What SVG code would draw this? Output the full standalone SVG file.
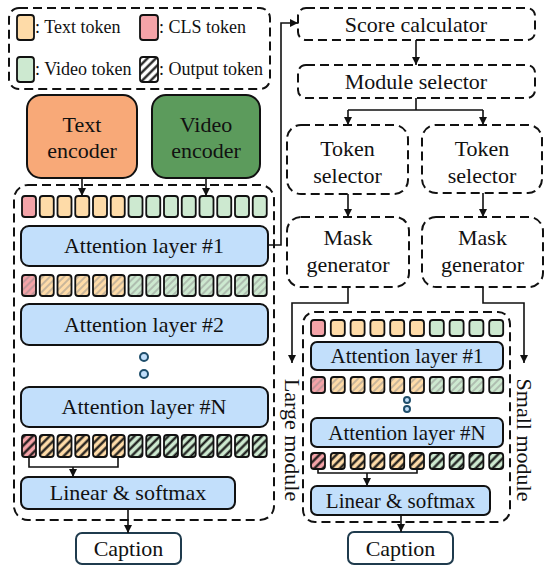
<svg xmlns="http://www.w3.org/2000/svg" width="544" height="568" viewBox="0 0 544 568">
<style>
text{font-family:"Liberation Serif","Times New Roman",serif;fill:#111;}
.t22{font-size:22px;text-anchor:middle;}
.t21{font-size:21px;text-anchor:middle;}
.leg{font-size:18px;}
.dash{fill:#fff;stroke:#111;stroke-width:2;stroke-dasharray:9 5;}
.dashn{fill:none;stroke:#111;stroke-width:2;stroke-dasharray:9 5;}
.att{fill:#C2DFFB;stroke:#111;stroke-width:2;}
.cap{fill:#fff;stroke:#1F3B4D;stroke-width:2;}
.tk{stroke:#111;stroke-width:1.8;}
.p{fill:#F4A3A8;}
.o{fill:#FEDBA8;}
.g{fill:#CDE9D0;}
.hl{fill:url(#hatchL);stroke:#111;stroke-width:1.8;}
.hb{fill:url(#hatchB);stroke:#111;stroke-width:1.8;}
.ln{fill:none;stroke:#111;stroke-width:1.6;}
.ar{fill:none;stroke:#111;stroke-width:1.6;marker-end:url(#ah);}
.dot{fill:#C2DFFB;stroke:#1F4E6B;stroke-width:2;}
</style>
<defs>
<marker id="ah" markerUnits="userSpaceOnUse" markerWidth="10" markerHeight="10" refX="8" refY="4" orient="auto">
<path d="M0,0 L8,4 L0,8 Z" fill="#111"/>
</marker>
<pattern id="hatchL" patternUnits="userSpaceOnUse" width="5" height="5" patternTransform="rotate(45)">
<line x1="1" y1="0" x2="1" y2="5" stroke="#888" stroke-opacity="0.6" stroke-width="1.5"/>
</pattern>
<pattern id="hatchB" patternUnits="userSpaceOnUse" width="6" height="6" patternTransform="rotate(45)">
<line x1="1.5" y1="0" x2="1.5" y2="6" stroke="#111" stroke-width="2.2"/>
</pattern>
</defs>

<g id="legend">
<rect class="dashn" x="9" y="8" width="261" height="81" rx="10"/>
<rect class="tk o" x="17" y="15" width="17" height="25" rx="3"/>
<text class="leg" x="35" y="33">: Text token</text>
<rect class="tk p" x="140" y="15" width="18" height="25" rx="3"/>
<text class="leg" x="159" y="33">: CLS token</text>
<rect class="tk g" x="17" y="57" width="17" height="25" rx="3"/>
<text class="leg" x="35" y="75">: Video token</text>
<rect fill="#fff" x="140" y="57" width="18" height="25" rx="3"/>
<rect class="hb" x="140" y="57" width="18" height="25" rx="3"/>
<text class="leg" x="159" y="75">: Output token</text>
</g>

<g id="text-encoder">
<rect x="27" y="95" width="110" height="83" rx="14" fill="#F8A978" stroke="#111" stroke-width="2"/>
<text class="t22" x="82" y="132">Text</text>
<text class="t22" x="82" y="158">encoder</text>
</g>
<g id="video-encoder">
<rect x="152" y="95" width="108" height="83" rx="14" fill="#5C9B5C" stroke="#111" stroke-width="2"/>
<text class="t22" x="206" y="132">Video</text>
<text class="t22" x="206" y="158">encoder</text>
</g>

<g id="large-module">
<rect class="dashn" x="14" y="185" width="260" height="335" rx="14"/>
<text class="t22" transform="translate(285,440) rotate(90)" x="0" y="0">Large module</text>
</g>

<g id="large-tokens-1">
<rect class="tk p" x="22" y="196" width="14" height="21" rx="3"/>
<rect class="tk o" x="39.75" y="196" width="14" height="21" rx="3"/>
<rect class="tk o" x="57.5" y="196" width="14" height="21" rx="3"/>
<rect class="tk o" x="75.25" y="196" width="14" height="21" rx="3"/>
<rect class="tk o" x="93" y="196" width="14" height="21" rx="3"/>
<rect class="tk o" x="110.75" y="196" width="14" height="21" rx="3"/>
<rect class="tk g" x="128.5" y="196" width="14" height="21" rx="3"/>
<rect class="tk g" x="146.25" y="196" width="14" height="21" rx="3"/>
<rect class="tk g" x="164" y="196" width="14" height="21" rx="3"/>
<rect class="tk g" x="181.75" y="196" width="14" height="21" rx="3"/>
<rect class="tk g" x="199.5" y="196" width="14" height="21" rx="3"/>
<rect class="tk g" x="217.25" y="196" width="14" height="21" rx="3"/>
<rect class="tk g" x="235" y="196" width="14" height="21" rx="3"/>
<rect class="tk g" x="252.75" y="196" width="14" height="21" rx="3"/>
</g>

<g id="large-attention-1">
<rect class="att" x="21" y="226" width="247" height="40" rx="8"/>
<text class="t22" x="144" y="253">Attention layer #1</text>
</g>

<g id="large-tokens-2">
<rect class="p" x="22" y="275" width="14" height="21" rx="3"/><rect class="hl" x="22" y="275" width="14" height="21" rx="3"/>
<rect class="o" x="39.75" y="275" width="14" height="21" rx="3"/><rect class="hl" x="39.75" y="275" width="14" height="21" rx="3"/>
<rect class="o" x="57.5" y="275" width="14" height="21" rx="3"/><rect class="hl" x="57.5" y="275" width="14" height="21" rx="3"/>
<rect class="o" x="75.25" y="275" width="14" height="21" rx="3"/><rect class="hl" x="75.25" y="275" width="14" height="21" rx="3"/>
<rect class="o" x="93" y="275" width="14" height="21" rx="3"/><rect class="hl" x="93" y="275" width="14" height="21" rx="3"/>
<rect class="o" x="110.75" y="275" width="14" height="21" rx="3"/><rect class="hl" x="110.75" y="275" width="14" height="21" rx="3"/>
<rect class="g" x="128.5" y="275" width="14" height="21" rx="3"/><rect class="hl" x="128.5" y="275" width="14" height="21" rx="3"/>
<rect class="g" x="146.25" y="275" width="14" height="21" rx="3"/><rect class="hl" x="146.25" y="275" width="14" height="21" rx="3"/>
<rect class="g" x="164" y="275" width="14" height="21" rx="3"/><rect class="hl" x="164" y="275" width="14" height="21" rx="3"/>
<rect class="g" x="181.75" y="275" width="14" height="21" rx="3"/><rect class="hl" x="181.75" y="275" width="14" height="21" rx="3"/>
<rect class="g" x="199.5" y="275" width="14" height="21" rx="3"/><rect class="hl" x="199.5" y="275" width="14" height="21" rx="3"/>
<rect class="g" x="217.25" y="275" width="14" height="21" rx="3"/><rect class="hl" x="217.25" y="275" width="14" height="21" rx="3"/>
<rect class="g" x="235" y="275" width="14" height="21" rx="3"/><rect class="hl" x="235" y="275" width="14" height="21" rx="3"/>
<rect class="g" x="252.75" y="275" width="14" height="21" rx="3"/><rect class="hl" x="252.75" y="275" width="14" height="21" rx="3"/>
</g>

<g id="large-attention-2">
<rect class="att" x="21" y="304" width="247" height="41" rx="8"/>
<text class="t22" x="144" y="332">Attention layer #2</text>
</g>

<g id="large-dots">
<circle class="dot" cx="144" cy="357" r="4"/>
<circle class="dot" cx="144" cy="374" r="4"/>
</g>

<g id="large-attention-n">
<rect class="att" x="21" y="387" width="247" height="40" rx="8"/>
<text class="t22" x="144" y="414">Attention layer #N</text>
</g>

<g id="large-tokens-3">
<rect class="p" x="22" y="435" width="14" height="22" rx="3"/><rect class="hb" x="22" y="435" width="14" height="22" rx="3"/>
<rect class="o" x="39.75" y="435" width="14" height="22" rx="3"/><rect class="hb" x="39.75" y="435" width="14" height="22" rx="3"/>
<rect class="o" x="57.5" y="435" width="14" height="22" rx="3"/><rect class="hb" x="57.5" y="435" width="14" height="22" rx="3"/>
<rect class="o" x="75.25" y="435" width="14" height="22" rx="3"/><rect class="hb" x="75.25" y="435" width="14" height="22" rx="3"/>
<rect class="o" x="93" y="435" width="14" height="22" rx="3"/><rect class="hb" x="93" y="435" width="14" height="22" rx="3"/>
<rect class="o" x="110.75" y="435" width="14" height="22" rx="3"/><rect class="hb" x="110.75" y="435" width="14" height="22" rx="3"/>
<rect class="g" x="128.5" y="435" width="14" height="22" rx="3"/><rect class="hb" x="128.5" y="435" width="14" height="22" rx="3"/>
<rect class="g" x="146.25" y="435" width="14" height="22" rx="3"/><rect class="hb" x="146.25" y="435" width="14" height="22" rx="3"/>
<rect class="g" x="164" y="435" width="14" height="22" rx="3"/><rect class="hb" x="164" y="435" width="14" height="22" rx="3"/>
<rect class="g" x="181.75" y="435" width="14" height="22" rx="3"/><rect class="hb" x="181.75" y="435" width="14" height="22" rx="3"/>
<rect class="g" x="199.5" y="435" width="14" height="22" rx="3"/><rect class="hb" x="199.5" y="435" width="14" height="22" rx="3"/>
<rect class="g" x="217.25" y="435" width="14" height="22" rx="3"/><rect class="hb" x="217.25" y="435" width="14" height="22" rx="3"/>
<rect class="g" x="235" y="435" width="14" height="22" rx="3"/><rect class="hb" x="235" y="435" width="14" height="22" rx="3"/>
<rect class="g" x="252.75" y="435" width="14" height="22" rx="3"/><rect class="hb" x="252.75" y="435" width="14" height="22" rx="3"/>
</g>

<g id="large-linear">
<rect class="att" x="21" y="477" width="214" height="32" rx="7"/>
<text class="t22" x="128" y="500">Linear &amp; softmax</text>
</g>

<g id="large-caption">
<rect class="cap" x="76" y="533" width="105" height="31" rx="6"/>
<text class="t22" x="128.5" y="556">Caption</text>
</g>

<g id="score-calculator">
<rect class="dash" x="298" y="8" width="237" height="32" rx="8"/>
<text class="t22" x="416" y="32">Score calculator</text>
</g>
<g id="module-selector">
<rect class="dash" x="298" y="65" width="237" height="33" rx="8"/>
<text class="t22" x="416" y="89">Module selector</text>
</g>
<g id="token-selector-left">
<rect class="dash" x="287" y="125" width="121" height="69" rx="14"/>
<text class="t22" x="347.5" y="156">Token</text>
<text class="t22" x="347.5" y="183">selector</text>
</g>
<g id="token-selector-right">
<rect class="dash" x="422" y="125" width="120" height="68" rx="14"/>
<text class="t22" x="482" y="156">Token</text>
<text class="t22" x="482" y="183">selector</text>
</g>
<g id="mask-generator-left">
<rect class="dash" x="287" y="217" width="122" height="70" rx="14"/>
<text class="t22" x="348" y="245">Mask</text>
<text class="t22" x="348" y="272">generator</text>
</g>
<g id="mask-generator-right">
<rect class="dash" x="422" y="217" width="121" height="70" rx="14"/>
<text class="t22" x="482.5" y="245">Mask</text>
<text class="t22" x="482.5" y="272">generator</text>
</g>

<g id="small-module">
<rect class="dashn" x="303" y="312" width="207" height="210" rx="12"/>
<text class="t22" transform="translate(517,440) rotate(90)" x="0" y="0">Small module</text>
</g>

<g id="small-tokens-1">
<rect class="tk p" x="311" y="320" width="14" height="16" rx="3"/>
<rect class="tk o" x="330.8" y="320" width="14" height="16" rx="3"/>
<rect class="tk o" x="350.6" y="320" width="14" height="16" rx="3"/>
<rect class="tk o" x="370.4" y="320" width="14" height="16" rx="3"/>
<rect class="tk o" x="390.2" y="320" width="14" height="16" rx="3"/>
<rect class="tk o" x="410" y="320" width="14" height="16" rx="3"/>
<rect class="tk g" x="429.8" y="320" width="14" height="16" rx="3"/>
<rect class="tk g" x="449.6" y="320" width="14" height="16" rx="3"/>
<rect class="tk g" x="469.4" y="320" width="14" height="16" rx="3"/>
<rect class="tk g" x="489.2" y="320" width="14" height="16" rx="3"/>
</g>

<g id="small-attention-1">
<rect class="att" x="311" y="342" width="192" height="28" rx="6"/>
<text class="t21" x="407" y="363">Attention layer #1</text>
</g>

<g id="small-tokens-2">
<rect class="p" x="311" y="377" width="14" height="16" rx="3"/><rect class="hl" x="311" y="377" width="14" height="16" rx="3"/>
<rect class="o" x="330.8" y="377" width="14" height="16" rx="3"/><rect class="hl" x="330.8" y="377" width="14" height="16" rx="3"/>
<rect class="o" x="350.6" y="377" width="14" height="16" rx="3"/><rect class="hl" x="350.6" y="377" width="14" height="16" rx="3"/>
<rect class="o" x="370.4" y="377" width="14" height="16" rx="3"/><rect class="hl" x="370.4" y="377" width="14" height="16" rx="3"/>
<rect class="o" x="390.2" y="377" width="14" height="16" rx="3"/><rect class="hl" x="390.2" y="377" width="14" height="16" rx="3"/>
<rect class="o" x="410" y="377" width="14" height="16" rx="3"/><rect class="hl" x="410" y="377" width="14" height="16" rx="3"/>
<rect class="g" x="429.8" y="377" width="14" height="16" rx="3"/><rect class="hl" x="429.8" y="377" width="14" height="16" rx="3"/>
<rect class="g" x="449.6" y="377" width="14" height="16" rx="3"/><rect class="hl" x="449.6" y="377" width="14" height="16" rx="3"/>
<rect class="g" x="469.4" y="377" width="14" height="16" rx="3"/><rect class="hl" x="469.4" y="377" width="14" height="16" rx="3"/>
<rect class="g" x="489.2" y="377" width="14" height="16" rx="3"/><rect class="hl" x="489.2" y="377" width="14" height="16" rx="3"/>
</g>

<g id="small-dots">
<circle class="dot" cx="407" cy="400" r="3"/>
<circle class="dot" cx="407" cy="409" r="3"/>
</g>

<g id="small-attention-n">
<rect class="att" x="311" y="418" width="192" height="29" rx="6"/>
<text class="t21" x="407" y="440">Attention layer #N</text>
</g>

<g id="small-tokens-3">
<rect class="p" x="311" y="453" width="14" height="16" rx="3"/><rect class="hb" x="311" y="453" width="14" height="16" rx="3"/>
<rect class="o" x="330.8" y="453" width="14" height="16" rx="3"/><rect class="hb" x="330.8" y="453" width="14" height="16" rx="3"/>
<rect class="o" x="350.6" y="453" width="14" height="16" rx="3"/><rect class="hb" x="350.6" y="453" width="14" height="16" rx="3"/>
<rect class="o" x="370.4" y="453" width="14" height="16" rx="3"/><rect class="hb" x="370.4" y="453" width="14" height="16" rx="3"/>
<rect class="o" x="390.2" y="453" width="14" height="16" rx="3"/><rect class="hb" x="390.2" y="453" width="14" height="16" rx="3"/>
<rect class="o" x="410" y="453" width="14" height="16" rx="3"/><rect class="hb" x="410" y="453" width="14" height="16" rx="3"/>
<rect class="g" x="429.8" y="453" width="14" height="16" rx="3"/><rect class="hb" x="429.8" y="453" width="14" height="16" rx="3"/>
<rect class="g" x="449.6" y="453" width="14" height="16" rx="3"/><rect class="hb" x="449.6" y="453" width="14" height="16" rx="3"/>
<rect class="g" x="469.4" y="453" width="14" height="16" rx="3"/><rect class="hb" x="469.4" y="453" width="14" height="16" rx="3"/>
<rect class="g" x="489.2" y="453" width="14" height="16" rx="3"/><rect class="hb" x="489.2" y="453" width="14" height="16" rx="3"/>
</g>

<g id="small-linear">
<rect class="att" x="311" y="486" width="179" height="29" rx="6"/>
<text class="t21" x="400.5" y="508">Linear &amp; softmax</text>
</g>

<g id="small-caption">
<rect class="cap" x="348" y="532" width="105" height="32" rx="6"/>
<text class="t22" x="400.5" y="556">Caption</text>
</g>

<g id="connectors">
<path class="ar" d="M82,178 V196"/>
<path class="ar" d="M206,178 V196"/>
<path class="ar" d="M268,245 H281 V23 H298"/>
<path class="ln" d="M29,457 V467 H118 V457"/>
<path class="ar" d="M73,467 V477"/>
<path class="ar" d="M128,509 V533"/>
<path class="ar" d="M416,40 V65"/>
<path class="ln" d="M416,98 V110 M348,110 H483"/>
<path class="ar" d="M348,110 V125"/>
<path class="ar" d="M483,110 V125"/>
<path class="ar" d="M348,194 V217"/>
<path class="ar" d="M483,193 V217"/>
<path class="ar" d="M348,287 V303 H292 V363"/>
<path class="ar" d="M483,287 V303 H524 V363"/>
<path class="ln" d="M318,469 V473 H417 V469"/>
<path class="ar" d="M367,473 V486"/>
<path class="ar" d="M401,515 V532"/>
</g>
</svg>
